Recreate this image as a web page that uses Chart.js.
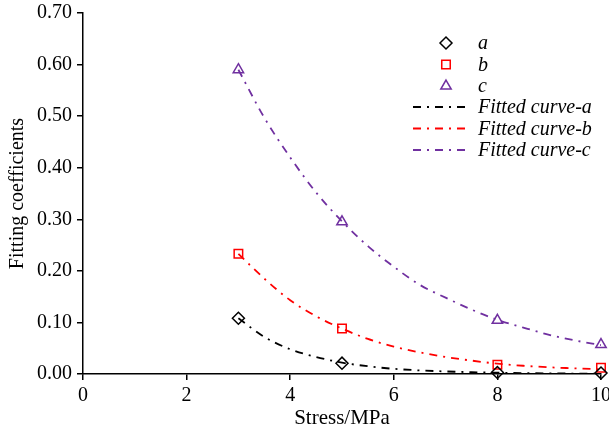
<!DOCTYPE html>
<html>
<head>
<meta charset="utf-8">
<script src="https://cdn.jsdelivr.net/npm/chart.js@4/dist/chart.umd.min.js"></script>
<style>
  html, body { margin: 0; padding: 0; background: #fff; }
  #wrap { width: 609px; height: 431px; position: relative; }
</style>
</head>
<body>
<div id="wrap"><canvas id="fitChart"></canvas></div>
<script>
// measured coefficients
const stress = [3, 5, 8, 10];
const coefA = [0.108, 0.021, 0.003, 0.002];
const coefB = [0.233, 0.088, 0.018, 0.012];
const coefC = [0.590, 0.295, 0.104, 0.057];

// fitted curves, sampled every 0.5 MPa
const fitX = [3, 3.5, 4, 4.5, 5, 5.5, 6, 6.5, 7, 7.5, 8, 8.5, 9, 9.5, 10];
const fitA = [0.108, 0.072, 0.048, 0.033, 0.022, 0.015, 0.010, 0.007, 0.005, 0.0035, 0.0025, 0.0018, 0.0012, 0.0008, 0.0005];
const fitB = [0.233, 0.185, 0.143, 0.112, 0.088, 0.068, 0.053, 0.042, 0.033, 0.026, 0.020, 0.016, 0.013, 0.011, 0.009];
const fitC = [0.590, 0.497, 0.420, 0.352, 0.296, 0.248, 0.208, 0.173, 0.148, 0.125, 0.105, 0.090, 0.076, 0.065, 0.056];

const xTicks = [0, 2, 4, 6, 8, 10];
const yTicks = [0, 0.1, 0.2, 0.3, 0.4, 0.5, 0.6, 0.7];

const BLACK = '#000000', RED = '#ff0000', PURPLE = '#7030a0';
const SERIF = '"Liberation Serif", "Times New Roman", serif';
const DASHDOT = [8, 6, 2, 6];

const pts = (xs, ys) => xs.map((x, i) => ({ x, y: ys[i] }));

const markerSet = (label, data, color, style) => ({
  label, data: pts(stress, data), showLine: false,
  pointStyle: style, pointRadius: 6, pointHoverRadius: 6,
  pointBorderWidth: 1.5, borderColor: color, pointBorderColor: color,
  pointBackgroundColor: 'rgba(0,0,0,0)', backgroundColor: 'rgba(0,0,0,0)',
  clip: false, order: 0
});

const curveSet = (label, data, color) => ({
  label, data: pts(fitX, data), showLine: true,
  borderColor: color, borderWidth: 1.8, borderDash: DASHDOT,
  pointRadius: 0, cubicInterpolationMode: 'monotone', fill: false, order: 1
});

// legend drawn by hand so markers and dash samples sit in their own columns
const legendPlugin = {
  id: 'sideLegend',
  afterDraw(chart) {
    const ctx = chart.ctx;
    const rowY = [43, 64.5, 86, 107, 128.5, 150];
    const textX = 478;
    ctx.save();
    ctx.font = 'italic 20px ' + SERIF;
    ctx.textBaseline = 'middle';
    chart.data.datasets.forEach((ds, i) => {
      const y = rowY[i];
      ctx.strokeStyle = ds.borderColor;
      if (ds.showLine) {
        ctx.lineWidth = ds.borderWidth;
        ctx.setLineDash(ds.borderDash);
        ctx.beginPath();
        ctx.moveTo(413, y);
        ctx.lineTo(471, y);
        ctx.stroke();
        ctx.setLineDash([]);
      } else {
        ctx.fillStyle = 'rgba(0,0,0,0)';
        ctx.lineWidth = 1.5;
        Chart.helpers.drawPoint(ctx, {
          pointStyle: ds.pointStyle, radius: 6, borderWidth: 1.5
        }, 446, y);
      }
      ctx.fillStyle = '#000';
      ctx.fillText(ds.label, textX, y + 1);
    });
    ctx.restore();
  }
};

new Chart(document.getElementById('fitChart'), {
  type: 'scatter',
  data: {
    datasets: [
      markerSet('a', coefA, BLACK, 'rectRot'),
      markerSet('b', coefB, RED, 'rect'),
      markerSet('c', coefC, PURPLE, 'triangle'),
      curveSet('Fitted curve-a', fitA, BLACK),
      curveSet('Fitted curve-b', fitB, RED),
      curveSet('Fitted curve-c', fitC, PURPLE)
    ]
  },
  options: {
    responsive: true,
    maintainAspectRatio: false,
    animation: false,
    layout: { padding: { top: 13, right: 8, left: 0, bottom: 0 } },
    plugins: { legend: { display: false }, tooltip: { enabled: false } },
    scales: {
      x: {
        type: 'linear', min: 0, max: 10,
        afterBuildTicks: s => { s.ticks = xTicks.map(v => ({ value: v })); },
        afterFit: s => { s.height = 57; s.paddingRight = 0; s.paddingLeft = 0; },
        ticks: { color: '#000', font: { family: SERIF, size: 20 }, padding: 4, maxRotation: 0 },
        grid: { drawOnChartArea: false, color: '#000', tickLength: 6, lineWidth: 1.5 },
        border: { color: '#000', width: 1.5 },
        title: { display: true, text: 'Stress/MPa', color: '#000', font: { family: SERIF, size: 21 }, padding: { top: 0, bottom: 0 } }
      },
      y: {
        type: 'linear', min: 0, max: 0.7,
        afterBuildTicks: s => { s.ticks = yTicks.map(v => ({ value: v })); },
        afterFit: s => { s.width = 83; s.paddingTop = 0; s.paddingBottom = 0; },
        ticks: { color: '#000', font: { family: SERIF, size: 20 }, padding: 5, callback: v => v.toFixed(2) },
        grid: { drawOnChartArea: false, color: '#000', tickLength: 6, lineWidth: 1.5 },
        border: { color: '#000', width: 1.5 },
        title: { display: true, text: 'Fitting coefficients', color: '#000', font: { family: SERIF, size: 20 }, padding: { top: 6, bottom: 0 } }
      }
    }
  },
  plugins: [legendPlugin]
});
</script>
</body>
</html>
